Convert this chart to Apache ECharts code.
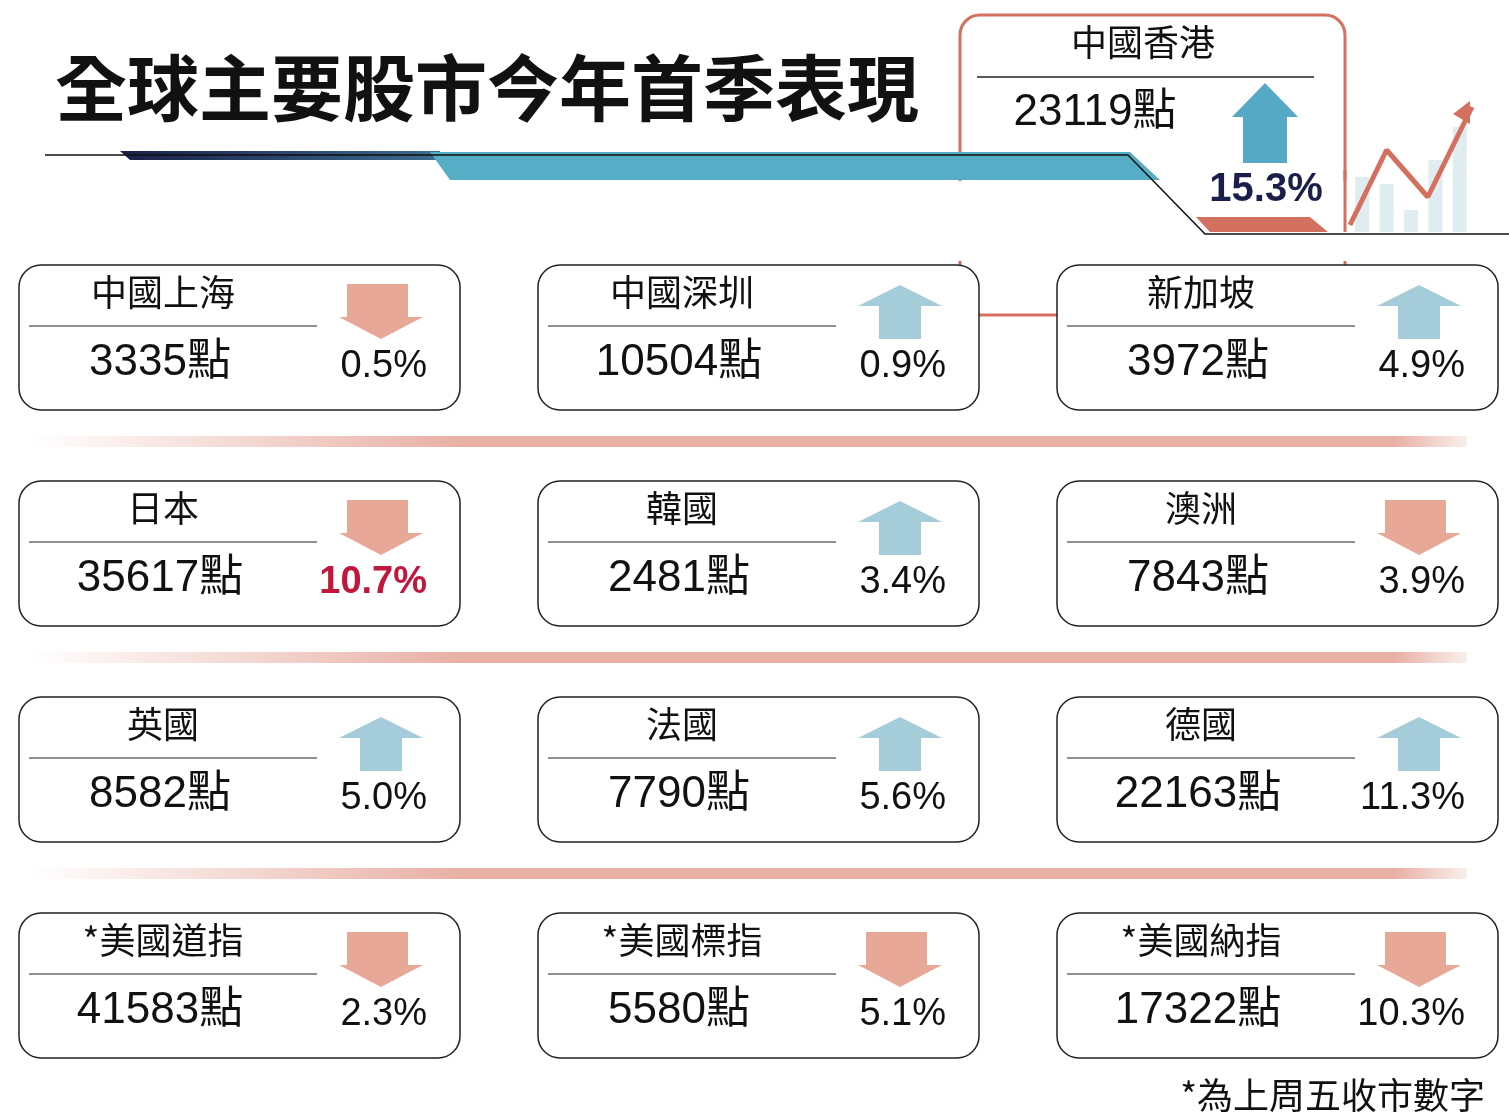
<!DOCTYPE html><html><head><meta charset="utf-8">
<script src="https://cdn.jsdelivr.net/npm/echarts@6/dist/echarts.min.js"></script>
<style>html,body{margin:0;padding:0;background:#fff}#c{width:1509px;height:1116px}</style></head><body><div id="c"></div>
<script>
const markets=['中國上海','中國深圳','新加坡','日本','韓國','澳洲','英國','法國','德國','*美國道指','*美國標指','*美國納指'];
const points=[3335,10504,3972,35617,2481,7843,8582,7790,22163,41583,5580,17322];
const changes=[-0.5,0.9,4.9,-10.7,3.4,-3.9,5.0,5.6,11.3,-2.3,-5.1,-10.3];
const hkName='中國香港', hkPoints=23119, hkChange=15.3;
const miniBars=[55,48,22,72,105];
const miniLine=[7,82,35,125];
const title='全球主要股市今年首季表現';
const footnote='*為上周五收市數字';

const F='"Liberation Sans","Noto Sans CJK TC",sans-serif';
const UP='#a5cdd9', DOWN='#e8a898';
const g=[];
g.push({type:'text',left:55,top:52,style:{text:title,font:'bold 72px "Noto Sans CJK TC"',fill:'#111'}});
// HK box outline
g.push({type:'rect',shape:{x:960,y:15,width:385,height:300,r:20},style:{stroke:'#d4705f',lineWidth:3,fill:'#fff'}});
g.push({type:'rect',shape:{x:940,y:181,width:420,height:80},style:{fill:'#fff'}});
g.push({type:'line',shape:{x1:1345,y1:170,x2:1345,y2:232},style:{stroke:'#d4705f',lineWidth:3}});
g.push({type:'line',shape:{x1:977,y1:77,x2:1314,y2:77},style:{stroke:'#222',lineWidth:1.5}});
g.push({type:'text',x:1143,y:42,style:{text:hkName,font:'36px "Noto Sans CJK TC"',fill:'#111',align:'center',verticalAlign:'middle'}});
g.push({type:'text',x:1095,y:113,style:{text:hkPoints+'點',font:'44px '+F,fill:'#111',align:'center',verticalAlign:'middle'}});
g.push({type:'polygon',shape:{points:[[1265,83],[1298,117],[1287,117],[1287,163],[1243,163],[1243,117],[1232,117]]},style:{fill:'#56a9c4'}});
g.push({type:'text',x:1266,y:190,style:{text:hkChange.toFixed(1)+'%',font:'bold 40px '+F,fill:'#1a1f4a',align:'center',verticalAlign:'middle'}});
g.push({type:'polygon',shape:{points:[[1196,217],[1310,217],[1328,232],[1210,232]]},style:{fill:'#d4705f'}});
// bands
g.push({type:'polygon',shape:{points:[[120,151],[440,151],[440,160],[130,160]]},style:{fill:{type:'linear',x:0,y:0,x2:1,y2:0,colorStops:[{offset:0,color:'#1a1f4a'},{offset:1,color:'#3b6d8f'}]}}});
g.push({type:'polygon',shape:{points:[[430,152],[1130,152],[1160,180],[450,180]]},style:{fill:'#56aec6'}});
g.push({type:'polyline',shape:{points:[[45,155],[1128,155],[1205,234],[1509,234]]},style:{stroke:'#111',lineWidth:1.5,fill:null}});
// separators
[441,657,873].forEach(y=>g.push({type:'rect',shape:{x:30,y:y-5,width:1437,height:11},style:{fill:{type:'linear',x:0,y:0,x2:1,y2:0,colorStops:[{offset:0,color:'rgba(232,176,165,0)'},{offset:0.3,color:'#e8b0a5'},{offset:0.95,color:'#e8b0a5'},{offset:1,color:'rgba(232,176,165,0.2)'}]}}}));
// cards
markets.forEach((m,i)=>{
  const x=[19,538,1057][i%3], y=265+216*Math.floor(i/3);
  g.push({type:'rect',shape:{x:x,y:y,width:441,height:145,r:22},style:{fill:'#fff',stroke:'#222',lineWidth:1.5}});
  g.push({type:'line',shape:{x1:x+10,y1:y+61,x2:x+298,y2:y+61},style:{stroke:'#222',lineWidth:1.2}});
  g.push({type:'text',x:x+144,y:y+27,style:{text:m,font:'36px "Noto Sans CJK TC"',fill:'#111',align:'center',verticalAlign:'middle'}});
  g.push({type:'text',x:x+141,y:y+98,style:{text:points[i]+'點',font:'44px '+F,fill:'#111',align:'center',verticalAlign:'middle'}});
  const ax=x+362, up=changes[i]>0;
  const pts=up?[[ax,y+20],[ax+42,y+41],[ax+21,y+41],[ax+21,y+74],[ax-21,y+74],[ax-21,y+41],[ax-42,y+41]]
             :[[ax,y+74],[ax+42,y+52],[ax+27,y+52],[ax+27,y+19],[ax-34,y+19],[ax-34,y+52],[ax-42,y+52]];
  g.push({type:'polygon',shape:{points:pts},style:{fill:up?UP:DOWN}});
  const big=Math.abs(changes[i])===10.7;
  g.push({type:'text',x:x+408,y:y+102,style:{text:Math.abs(changes[i]).toFixed(1)+'%',font:(big?'bold ':'')+'38px '+F,fill:big?'#c0173c':'#111',align:'right',verticalAlign:'middle'}});
});
g.push({type:'text',x:1485,y:1095,style:{text:footnote,font:'36px "Noto Sans CJK TC"',fill:'#111',align:'right',verticalAlign:'middle'}});
g.push({type:'polygon',shape:{points:[[1470,101],[1470,124],[1453,114]]},style:{fill:'#d4705f'},z:10});

const chart=echarts.init(document.getElementById('c'));
chart.setOption({
  animation:false,
  graphic:g,
  grid:{left:1350,top:100,width:122,height:132},
  xAxis:[{type:'category',data:['a','b','c','d','e'],show:false},{type:'value',min:0,max:4,show:false}],
  yAxis:{type:'value',min:0,max:132,show:false},
  series:[
    {type:'bar',data:miniBars,barWidth:14,itemStyle:{color:'#dfedf1'},z:1},
    {type:'line',xAxisIndex:1,data:miniLine.map((v,i)=>[[0,1.2,2.55,4][i],v]),symbol:'none',lineStyle:{color:'#d4705f',width:5},z:2}
  ]
});
</script></body></html>
